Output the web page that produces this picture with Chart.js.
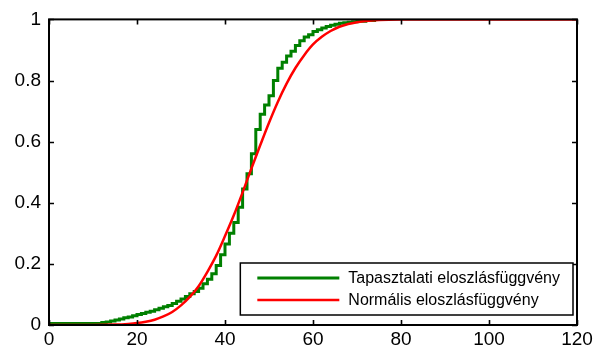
<!DOCTYPE html>
<html>
<head>
<meta charset="utf-8">
<script src="https://cdn.jsdelivr.net/npm/chart.js@4.4.1/dist/chart.umd.min.js"></script>
<style>
  html, body { margin: 0; padding: 0; background: #fff; }
  #wrap { width: 597px; height: 350px; }
</style>
</head>
<body>
<div id="wrap"><canvas id="cdfChart" width="597" height="350"></canvas></div>
<script>
const ecdfX = [0, 12, 13, 14, 15, 16, 17, 18, 19, 20, 21, 22, 23, 24, 25, 26, 27, 28, 29, 30,
    31, 32, 33, 34, 35, 36, 37, 38, 39, 40, 41, 42, 43, 44, 45, 46, 47, 48, 49, 50,
    51, 52, 53, 54, 55, 56, 57, 58, 59, 60, 61, 62, 63, 64, 65, 66, 67, 68, 69, 70,
    72, 74, 76];
const ecdfY = [0, 0.005, 0.008, 0.010, 0.013, 0.016, 0.020, 0.024, 0.026, 0.030, 0.034, 0.038, 0.042, 0.045, 0.050, 0.055, 0.060, 0.064, 0.070, 0.078,
    0.085, 0.093, 0.102, 0.110, 0.120, 0.135, 0.150, 0.168, 0.195, 0.230, 0.265, 0.300, 0.335, 0.385, 0.445, 0.495, 0.560, 0.640, 0.690, 0.720,
    0.750, 0.800, 0.840, 0.860, 0.880, 0.896, 0.915, 0.930, 0.942, 0.950, 0.960, 0.966, 0.972, 0.977, 0.981, 0.984, 0.987, 0.989, 0.991, 0.992,
    0.994, 0.996, 1.0];

// Fitted normal CDF
const normX = [0, 10, 15, 18, 20, 22, 24, 26, 28, 30, 32, 34, 36, 38, 40, 42, 44, 46, 48, 50,
    52, 54, 56, 58, 60, 62, 64, 66, 68, 70, 72, 75, 80, 90, 120];
const normY = [0, 0.0003, 0.0014, 0.0036, 0.0062, 0.0107, 0.0174, 0.0281, 0.0427, 0.0643, 0.0918, 0.127, 0.174, 0.227, 0.291, 0.359, 0.434, 0.512, 0.588, 0.662,
    0.730, 0.790, 0.841, 0.883, 0.918, 0.943, 0.962, 0.976, 0.985, 0.991, 0.995, 0.998, 0.9996, 1.0, 1.0];

const xTicks = [0, 20, 40, 60, 80, 100, 120];
const yTicks = [0, 0.2, 0.4, 0.6, 0.8, 1];
const seriesNames = ['Tapasztalati eloszlásfüggvény', 'Normális eloszlásfüggvény'];

const FONT = 'Arial, "Liberation Sans", Helvetica, sans-serif';

function toPoints(xs, ys) {
    return xs.map((x, i) => ({ x: x, y: ys[i] }));
}

// MATLAB style frame with inward ticks on all four sides
const framePlugin = {
    id: 'frame',
    afterDatasetsDraw(chart) {
        const { ctx, chartArea: a, scales } = chart;
        const len = 5;
        ctx.save();
        ctx.strokeStyle = '#000';
        ctx.lineWidth = 1.6;
        ctx.beginPath();
        xTicks.forEach(v => {
            const px = Math.round(scales.x.getPixelForValue(v)) + 0.5;
            ctx.moveTo(px, a.bottom); ctx.lineTo(px, a.bottom - len);
            ctx.moveTo(px, a.top); ctx.lineTo(px, a.top + len);
        });
        yTicks.forEach(v => {
            const py = Math.round(scales.y.getPixelForValue(v)) + 0.5;
            ctx.moveTo(a.left, py); ctx.lineTo(a.left + len, py);
            ctx.moveTo(a.right, py); ctx.lineTo(a.right - len, py);
        });
        ctx.stroke();
        ctx.lineWidth = 2;
        ctx.strokeRect(a.left, a.top, a.right - a.left, a.bottom - a.top);
        ctx.restore();
    }
};

// Legend box in the lower right corner of the axes
const boxLegend = {
    id: 'boxLegend',
    afterDraw(chart) {
        const { ctx, chartArea: a } = chart;
        const items = seriesNames.map(name => chart.data.datasets.find(d => d.label === name));
        ctx.save();
        ctx.font = '16px ' + FONT;
        const textW = Math.max(...items.map(d => ctx.measureText(d.label).width));
        const w = 108 + textW + 13;
        const h = 52;
        const right = a.right - 4;
        const bottom = a.bottom - 10;
        const left = right - w;
        const top = bottom - h;
        ctx.fillStyle = '#fff';
        ctx.fillRect(left, top, w, h);
        ctx.strokeStyle = '#000';
        ctx.lineWidth = 1.5;
        ctx.strokeRect(left, top, w, h);
        items.forEach((d, i) => {
            const y = top + 15 + i * 22;
            ctx.strokeStyle = d.borderColor;
            ctx.lineWidth = d.borderWidth;
            ctx.beginPath();
            ctx.moveTo(left + 17, y);
            ctx.lineTo(left + 99, y);
            ctx.stroke();
            ctx.fillStyle = '#000';
            ctx.textBaseline = 'middle';
            ctx.textAlign = 'left';
            ctx.fillText(d.label, left + 108, y + 1);
        });
        ctx.restore();
    }
};

new Chart(document.getElementById('cdfChart').getContext('2d'), {
    type: 'line',
    data: {
        datasets: [{
            label: seriesNames[0],
            data: toPoints(ecdfX, ecdfY),
            borderColor: '#008000',
            borderWidth: 3,
            stepped: 'after',
            pointRadius: 0,
            fill: false,
            order: 2
        }, {
            label: seriesNames[1],
            data: toPoints(normX, normY),
            borderColor: '#ff0000',
            borderWidth: 2.5,
            tension: 0.4,
            cubicInterpolationMode: 'monotone',
            pointRadius: 0,
            fill: false,
            order: 1
        }]
    },
    options: {
        responsive: false,
        animation: false,
        devicePixelRatio: 1,
        layout: { padding: { left: 0, top: 18, right: 20, bottom: 0 } },
        plugins: {
            legend: { display: false },
            tooltip: { enabled: false }
        },
        scales: {
            x: {
                type: 'linear',
                min: 0,
                max: 120,
                afterFit: s => { s.height = 25; },
                afterBuildTicks: s => { s.ticks = xTicks.map(v => ({ value: v })); },
                grid: { display: false, drawTicks: false },
                border: { display: false },
                ticks: {
                    color: '#000',
                    padding: 3,
                    maxRotation: 0,
                    font: { family: FONT, size: 19 }
                }
            },
            y: {
                type: 'linear',
                min: 0,
                max: 1,
                afterFit: s => { s.width = 49; },
                afterBuildTicks: s => { s.ticks = yTicks.map(v => ({ value: v })); },
                grid: { display: false, drawTicks: false },
                border: { display: false },
                ticks: {
                    color: '#000',
                    padding: 8,
                    font: { family: FONT, size: 19 },
                    callback: v => String(v)
                }
            }
        }
    },
    plugins: [framePlugin, boxLegend]
});
</script>
</body>
</html>
